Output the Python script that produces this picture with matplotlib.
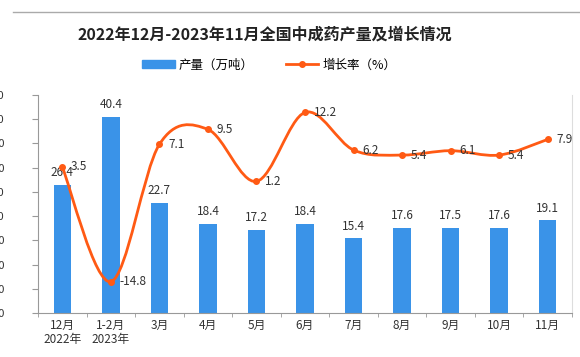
import numpy as np
import matplotlib
matplotlib.use("Agg")
import matplotlib.pyplot as plt
from matplotlib.path import Path
from matplotlib.patches import PathPatch
from matplotlib.lines import Line2D

plt.rcParams['font.family'] = ['Noto Sans CJK SC', 'DejaVu Sans']

# 数据
meses = ["12月\n2022年", "1-2月\n2023年", "3月", "4月", "5月", "6月",
         "7月", "8月", "9月", "10月", "11月"]
producao = [26.4, 40.4, 22.7, 18.4, 17.2, 18.4, 15.4, 17.6, 17.5, 17.6, 19.1]
crescimento = [3.5, -14.8, 7.1, 9.5, 1.2, 12.2, 6.2, 5.4, 6.1, 5.4, 7.9]
ticks_esq = [0, 5, 10, 15, 20, 25, 30, 35, 40, 45]

azul = "#3A93E8"
laranja = "#FF5A14"


def caminho_suave(xs, ys, t=1/6):
    # curva suave tipo Excel (Bezier a partir dos pontos)
    verts = [(xs[0], ys[0])]
    codes = [Path.MOVETO]
    n = len(xs)
    for i in range(n - 1):
        x0, y0 = xs[max(i - 1, 0)], ys[max(i - 1, 0)]
        x1, y1 = xs[i], ys[i]
        x2, y2 = xs[i + 1], ys[i + 1]
        x3, y3 = xs[min(i + 2, n - 1)], ys[min(i + 2, n - 1)]
        c1 = (x1 + (x2 - x0) * t, y1 + (y2 - y0) * t)
        c2 = (x2 - (x3 - x1) * t, y2 - (y3 - y1) * t)
        verts += [c1, c2, (x2, y2)]
        codes += [Path.CURVE4] * 3
    return Path(verts, codes)


fig = plt.figure(figsize=(5.8, 3.57), dpi=100)
ax = fig.add_axes([0.0655, 0.1232, 0.9207, 0.611])
x = np.arange(len(meses))

ax.bar(x, producao, width=0.36, color=azul, zorder=2)
ax.set_xlim(-0.5, len(meses) - 0.5)
ax.set_ylim(0, 45)
ax.set_yticks(ticks_esq)
ax.set_yticklabels([f"{v:.1f}" for v in ticks_esq], fontsize=8, color="#333333")
ax.tick_params(axis="y", length=4, pad=20, color="#999999")
ax.set_xticks(x)
ax.set_xticklabels(meses, fontsize=8.5, color="#333333", linespacing=1.1)
ax.set_xticks(np.arange(-0.5, len(meses)), minor=True)
ax.tick_params(axis="x", which="major", length=0, pad=4)
ax.tick_params(axis="x", which="minor", length=3, color="#999999")
ax.spines["top"].set_visible(False)
ax.spines["left"].set_color("#999999")
ax.spines["bottom"].set_color("#999999")
ax.spines["right"].set_color("#dddddd")

for xi, v in zip(x, producao):
    ax.text(xi, v + 1.2, f"{v}", ha="center", va="bottom", fontsize=8.5, color="#333333")

ax2 = ax.twinx()
ax2.set_ylim(-19.8, 15.0)
ax2.set_yticks([])
for s in ax2.spines.values():
    s.set_visible(False)
ax2.add_patch(PathPatch(caminho_suave(x, crescimento), facecolor="none",
                        edgecolor=laranja, lw=2, zorder=3))
ax2.plot(x, crescimento, "o", color=laranja, ms=4, zorder=4)
for xi, v in zip(x, crescimento):
    ax2.text(xi + 0.18, v, f"{v}", ha="left", va="center", fontsize=8.5, color="#333333")

fig.text(0.457, 0.902, "2022年12月-2023年11月全国中成药产量及增长情况", ha="center", va="center",
         fontsize=11.5, fontweight="bold", color="#222222")
fig.add_artist(Line2D([13 / 580, 1], [1 - 12 / 357] * 2, color="#aaaaaa", lw=1))

handles = [plt.Rectangle((0, 0), 1, 1, color=azul),
           Line2D([], [], color=laranja, lw=2, marker="o", ms=4)]
fig.legend(handles, ["产量（万吨）", "增长率（%）"], loc="center", bbox_to_anchor=(0.464, 0.818),
           ncol=2, frameon=False, fontsize=9, handlelength=2.6, handleheight=0.6,
           columnspacing=2.6, handletextpad=0.3)

fig.savefig("out.png", dpi=100)
